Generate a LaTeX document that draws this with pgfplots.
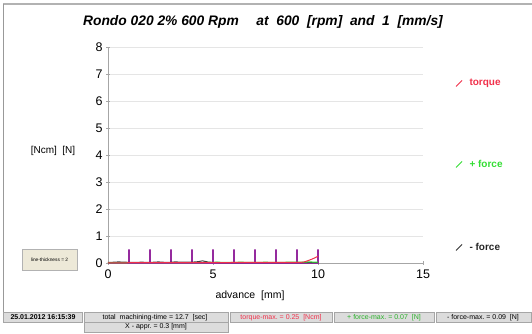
\documentclass[border=0pt]{standalone}
\usepackage{pgfplots}
\pgfplotsset{compat=1.18}
\usepackage{fontspec}
\setmainfont{Liberation Sans}
\definecolor{tq}{HTML}{F0304A}
\definecolor{pf}{HTML}{33DD33}
\definecolor{pu}{HTML}{952A9E}
\definecolor{btn}{HTML}{EDE9D8}
\definecolor{rowg}{HTML}{DCDCDC}
\begin{document}
\begin{tikzpicture}
\begin{scope}[x=1pt,y=1pt]
\useasboundingbox (0,0) rectangle (532,334);
% frame
\draw[gray!60,line width=1.2pt] (3,330) -- (532,330);
\draw[gray!80,line width=0.8pt] (3,330) -- (3,21);
% title
\node[font=\fontsize{13.8}{14}\selectfont\bfseries\itshape] at (263,312) {Rondo 020 2\% 600 Rpm\quad\ at\ \ 600\ \ [rpm]\ \ and\ \ 1\ \ [mm/s]};
\end{scope}
\begin{axis}[
  at={(108pt,71pt)}, anchor=south west,
  scale only axis, width=315pt, height=216pt,
  xmin=0, xmax=15, ymin=0, ymax=8,
  axis x line=bottom, axis y line=left,
  axis line style={gray!70,-},
  xtick={0,5,10,15}, ytick={0,1,...,8},
  tick style={gray!70}, tick align=center, major tick length=4pt,
  ymajorgrids, grid style={gray!20},
  tick label style={font=\fontsize{12.5}{13}\selectfont},
  /pgf/number format/assume math mode=true,
  xticklabel style={yshift=-1pt},
  clip=false,
]
\addplot[pu, line width=1.2pt] coordinates {
(0,0)(1,0)(1,0.5)(1,0)(2,0)(2,0.5)(2,0)(3,0)(3,0.5)(3,0)(4,0)(4,0.5)(4,0)(5,0)(5,0.5)(5,0)(6,0)(6,0.5)(6,0)(7,0)(7,0.5)(7,0)(8,0)(8,0.5)(8,0)(9,0)(9,0.5)(9,0)(10,0)(10,0.5)(10,0)};
\addplot[black!75, line width=1pt] coordinates {
(0,0.02)(0.3,0.03)(0.5,0.04)(0.8,0.03)(1.2,0.02)(1.6,0.03)(2,0.02)(2.4,0.04)(2.8,0.02)(3.2,0.04)(3.6,0.03)(4,0.03)(4.3,0.05)(4.5,0.08)(4.8,0.03)(5.2,0.02)(5.6,0.01)(6,0.01)(7,0.01)(8,0.01)(9,0.01)(10,0.01)};
\addplot[pf, line width=1pt] coordinates {
(0,0.0)(1,0.01)(2,0.01)(3,0.01)(4,0.01)(4.8,0.02)(5.2,0.03)(5.8,0.02)(6.3,0.03)(7,0.02)(7.5,0.03)(8,0.02)(8.6,0.03)(9.2,0.03)(9.6,0.04)(10,0.03)};
\addplot[tq, line width=1pt] coordinates {
(0,0.0)(1,0.01)(2,0.01)(3,0.01)(4,0.01)(5,0.01)(6,0.02)(7,0.02)(8,0.02)(9,0.02)(9.3,0.03)(9.5,0.08)(9.7,0.14)(9.85,0.19)(10,0.25)};
\end{axis}
\begin{scope}[x=1pt,y=1pt]
% axis labels
\node[font=\fontsize{10}{10}\selectfont] at (53,183) {[Ncm]\ \ [N]};
\node[font=\fontsize{10.5}{11}\selectfont] at (250,38) {advance\ \ [mm]};
% legend
\draw[tq,line width=0.8pt] (456,247.5) -- (462,253.5);
\node[anchor=west,text=tq,font=\fontsize{10}{10}\selectfont\bfseries] at (466,251) {torque};
\draw[pf,line width=0.8pt] (456,166.5) -- (462,172.5);
\node[anchor=west,text=pf,font=\fontsize{10}{10}\selectfont\bfseries] at (466,170) {+ force};
\draw[black!80,line width=0.8pt] (456,83.5) -- (462,89.5);
\node[anchor=west,text=black!85,font=\fontsize{10}{10}\selectfont\bfseries] at (466,87) {- force};
% button
\draw[fill=btn,draw=gray!60] (22,64) rectangle (77,85);
\node[font=\fontsize{4.8}{5}\selectfont] at (49.5,74.5) {line-thickness = 2};
% bottom info rows
\foreach \a/\b in {3/82,84/228,230/332,334/434,436/531.5}{
  \draw[fill=rowg,draw=gray!70] (\a,12) rectangle (\b,21.5);
}
\draw[fill=rowg,draw=gray!70] (84,2) rectangle (228,12);
\node[font=\fontsize{7}{7}\selectfont\bfseries] at (43,16.7) {25.01.2012 16:15:39};
\node[font=\fontsize{7}{7}\selectfont] at (155,16.7) {total\ \ machining-time\ =\ 12.7\ \ [sec]};
\node[font=\fontsize{7}{7}\selectfont,text=tq] at (281,16.7) {torque-max.\ =\ 0.25\ \ [Ncm]};
\node[font=\fontsize{7}{7}\selectfont,text=pf!80!black] at (384,16.7) {+ force-max.\ =\ 0.07\ \ [N]};
\node[font=\fontsize{7}{7}\selectfont] at (483,16.7) {- force-max.\ =\ 0.09\ \ [N]};
\node[font=\fontsize{7}{7}\selectfont] at (156,7) {X - appr.\ = 0.3 [mm]};
\end{scope}
\end{tikzpicture}
\end{document}
